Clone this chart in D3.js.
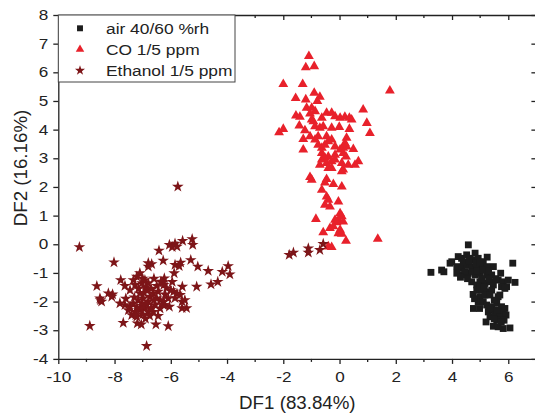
<!DOCTYPE html>
<html>
<head>
<meta charset="utf-8">
<script src="https://cdnjs.cloudflare.com/ajax/libs/d3/7.8.5/d3.min.js"></script>
<style>
  body { margin: 0; background: #fff; }
  text { font-family: "Liberation Sans", Arial, sans-serif; fill: #222; }
</style>
</head>
<body>
<div id="chart"></div>
<script>
// tick values
var xMajor = [-10, -8, -6, -4, -2, 0, 2, 4, 6];
var xMinor = [-9, -7, -5, -3, -1, 1, 3, 5];
var yMajor = [-4, -3, -2, -1, 0, 1, 2, 3, 4, 5, 6, 7, 8];

var legendNames = ["air 40/60 %rh", "CO 1/5 ppm", "Ethanol 1/5 ppm"];

// air 40/60 %rh  [DF1, DF2]
var airPoints = [
  [4.58,-0.02],[4.82,-0.31],[3.25,-0.98],[3.63,-0.9],[3.71,-0.96],[3.93,-0.66],[3.99,-0.61],
  [4.22,-0.43],[4.34,-0.49],[4.52,-0.37],[4.64,-0.49],[4.76,-0.55],[4.93,-0.49],[5.11,-0.61],[5.25,-0.45],
  [6.16,-0.66],[5.47,-0.78],[4.17,-0.78],[4.34,-0.84],[4.52,-0.72],[4.7,-0.78],[4.88,-0.84],[5.05,-0.78],[5.23,-0.78],
  [4.17,-1.01],[4.4,-1.07],[4.58,-1.01],[4.82,-1.07],[4.99,-1.01],[5.23,-1.07],[5.41,-1.07],[5.73,-1.01],
  [5.64,-1.25],[5.82,-1.31],[6.0,-1.25],[6.24,-1.33],[5.94,-1.48],
  [4.7,-1.31],[4.88,-1.42],[4.99,-1.31],[5.17,-1.36],[5.35,-1.31],[5.47,-1.42],[5.76,-1.48],[5.88,-1.54],
  [4.88,-1.6],[5.05,-1.6],[5.23,-1.66],[5.41,-1.6],
  [4.99,-1.83],[5.17,-1.77],[5.35,-1.77],[5.64,-1.83],[5.7,-1.77],
  [4.93,-2.0],[5.11,-2.0],[4.76,-2.24],[4.98,-2.24],
  [5.23,-2.12],[5.41,-2.18],[5.59,-2.06],[5.76,-2.18],[5.88,-2.24],
  [5.29,-2.36],[5.47,-2.3],[5.64,-2.36],[5.82,-2.41],
  [5.35,-2.53],[5.53,-2.47],[5.7,-2.53],[5.92,-2.47],
  [5.21,-2.71],[5.59,-2.65],[5.85,-2.65],
  [5.47,-2.86],[5.64,-2.88],[5.82,-2.94],[6.06,-2.92],
  [4.4,-0.62],[4.6,-0.6],[4.85,-0.65],[5.0,-0.62],[4.45,-0.95],[4.7,-0.95],[4.9,-0.92],[5.1,-0.9],[5.3,-0.92],
  [4.3,-1.15],[4.55,-1.2],[5.05,-1.2],[5.3,-1.2],[5.55,-1.2],[5.0,-1.5],[5.15,-1.5],[4.75,-1.75],[4.8,-1.9],
  [5.5,-1.95],[5.3,-2.25],[5.6,-2.3],[5.5,-2.6],[5.75,-2.7]
];

// CO 1/5 ppm
var coPoints = [
  [-1.09,6.56],[-1.2,6.17],[-0.9,6.21],[-2.0,5.59],[-1.31,5.59],[1.79,5.36],[-1.56,5.1],[-1.2,5.05],
  [-0.9,5.28],[-0.7,5.14],[-0.79,4.99],[-1.17,4.76],[-0.99,4.76],[-0.87,4.64],[-1.55,4.49],[-1.41,4.44],
  [-1.05,4.56],[-0.99,4.35],[-0.93,4.29],[-0.63,4.41],[-0.46,4.58],[-0.28,4.58],[-0.16,4.46],[0.02,4.41],
  [0.19,4.44],[0.35,4.41],[0.43,4.35],[0.84,4.7],[0.97,4.23],[1.08,3.88],[-2.15,3.9],[-2.0,4.02],
  [-1.43,4.14],[-1.23,3.97],[-0.87,4.11],[-0.7,4.06],[-0.58,4.11],[-0.28,4.06],[-0.01,4.09],[0.35,4.02],
  [-1.29,3.67],[-1.05,3.76],[-0.87,3.65],[-0.76,3.76],[-0.46,3.76],[-0.28,3.65],[0.25,3.71],[0.19,3.53],
  [-1.29,3.3],[-0.76,3.47],[-0.63,3.36],[-0.52,3.47],[-0.4,3.59],[-0.63,3.18],
  [-0.16,3.41],[0.02,3.3],[0.13,3.36],[0.25,3.41],[0.49,3.32],[-0.16,3.12],[0.13,3.18],[0.23,3.06],
  [-0.63,2.95],[-0.52,3.01],[-0.4,3.06],[-0.7,2.77],[-0.46,2.83],[-0.28,2.89],[-0.16,2.95],
  [-0.4,2.66],[-0.28,2.66],[0.08,2.83],[0.31,2.77],[0.55,2.77],[0.67,2.89],[0.08,2.54],[0.13,2.6],
  [-1.05,2.34],[-0.99,2.25],[-0.46,2.27],[-0.52,2.15],[-0.22,2.1],[0.08,2.01],[-0.63,1.9],
  [-0.46,1.66],[-0.4,1.55],[-0.04,1.49],[-0.52,1.37],[-0.34,1.31],
  [0.02,1.08],[0.08,0.97],[-0.04,0.85],[0.13,0.79],[-0.84,0.88],[-0.16,0.85],[-0.1,0.76],
  [-0.34,0.56],[-0.22,0.62],[0.02,0.5],[-0.04,0.38],[0.08,0.36],[-0.58,0.41],[0.23,0.12],[1.36,0.19],
  [-0.4,-0.08],[-0.28,-0.1]
];

// Ethanol 1/5 ppm
var ethanolPoints = [
  [-9.25,-0.1],[-8.02,-0.63],[-6.8,-0.66],[-6.68,-0.69],[-6.8,-0.78],[-6.42,-0.22],[-6.27,-0.57],
  [-6.05,-0.02],[-5.95,-0.1],[-5.85,0.02],[-5.78,-0.08],[-5.58,0.12],[-5.24,0.18],[-5.22,-0.02],[-5.75,2.01],
  [-5.85,-0.72],[-5.65,-0.64],[-5.7,-0.76],[-5.29,-0.55],[-5.04,-0.78],[-4.67,-0.93],[-4.17,-0.96],[-3.96,-0.76],[-3.9,-1.05],
  [-4.33,-1.31],[-4.57,-1.4],[-5.08,-1.48],[-5.59,-1.48],[-5.88,-1.01],[-5.95,-1.31],[-6.23,-1.19],[-6.3,-1.35],[-6.35,-1.3],[-6.25,-1.42],
  [-6.15,-1.53],[-6.0,-1.6],[-5.9,-1.65],[-5.78,-1.72],[-5.67,-1.77],
  [-5.85,-1.88],[-5.6,-2.0],[-5.5,-1.95],[-5.44,-2.23],[-5.6,-2.23],
  [-6.05,-2.18],[-6.23,-2.12],[-6.09,-2.86],[-6.53,-2.8],[-6.86,-3.55],[-7.19,-2.76],[-7.69,-2.74],[-8.88,-2.85],
  [-8.63,-1.46],[-8.52,-1.89],[-8.46,-2.0],[-8.5,-1.95],[-8.22,-1.71],[-8.07,-1.75],[-8.1,-1.83],[-7.78,-1.25],[-7.63,-1.45],
  [-7.81,-2.06],[-7.63,-2.12],[-7.51,-2.3],[-7.39,-2.47],[-7.21,-2.53],
  [-7.33,-1.25],[-7.21,-1.13],[-7.1,-1.01],[-7.27,-1.42],[-7.03,-1.36],[-6.92,-1.25],[-6.8,-1.36],[-6.86,-1.6],
  [-7.1,-1.71],[-6.98,-1.89],[-7.16,-1.95],[-7.03,-2.06],[-6.8,-2.0],[-6.74,-1.83],[-6.62,-1.71],[-6.5,-1.89],
  [-6.56,-2.12],[-6.68,-2.24],[-6.92,-2.24],[-7.1,-2.3],[-7.27,-2.36],[-7.45,-2.18],[-7.33,-2.06],[-6.8,-2.36],
  [-6.62,-2.36],[-6.38,-2.24],[-6.27,-2.12],[-6.38,-1.95],[-6.09,-1.89],[-7.24,-2.47],
  [-7.0,-1.2],[-6.9,-1.5],[-7.15,-1.55],[-6.95,-1.7],[-6.7,-1.55],[-6.6,-1.95],[-6.85,-2.1],[-7.0,-2.45],
  [-6.75,-2.5],[-6.45,-2.5],[-6.9,-2.6],[-7.05,-2.8],[-6.6,-1.2],[-6.5,-1.45],[-6.45,-1.65],[-6.2,-1.75],
  [-6.25,-2.0],[-7.3,-1.85],[-7.45,-1.6],[-7.6,-1.9],[-7.0,-2.15],[-6.7,-2.25],[-7.2,-2.2],
  [-1.79,-0.37],[-1.64,-0.29],[-1.11,-0.14],[-1.11,-0.29],[-0.7,-0.2],[-0.58,0.01]
];

var W = 535, H = 414;
var svg = d3.select("#chart").append("svg")
  .attr("width", W).attr("height", H);

var x = d3.scaleLinear().domain([-10, 7]).range([58.3, 536.4]);
var y = d3.scaleLinear().domain([-4, 8]).range([358.9, 15]);

var fmt = function(d){ return String(d); };
var axisCol = "#222";

// the source picture has slightly wide lettering, stretch text a little
var widen = function(sel, k){
  sel.each(function(){
    var w = this.getComputedTextLength();
    d3.select(this).attr("textLength", w * k).attr("lengthAdjust", "spacingAndGlyphs");
  });
};

// bottom axis, outward ticks
var gB = svg.append("g").attr("transform", "translate(0," + y(-4) + ")")
  .call(d3.axisBottom(x).tickValues(xMajor).tickSize(5).tickSizeOuter(0).tickFormat(fmt));
gB.append("g").selectAll("line").data(xMinor).join("line")
  .attr("x1", d => x(d)).attr("x2", d => x(d)).attr("y1", 0).attr("y2", 3);
gB.selectAll(".tick text").attr("y", 23).attr("dy", 0).style("font-size", "14.5px");

// top axis, inward ticks
var gT = svg.append("g").attr("transform", "translate(0," + y(8) + ")")
  .call(d3.axisTop(x).tickValues(xMajor).tickSize(-5).tickSizeOuter(0).tickFormat(""));
gT.append("g").selectAll("line").data(xMinor).join("line")
  .attr("x1", d => x(d)).attr("x2", d => x(d)).attr("y1", 0).attr("y2", 3);

// left axis, outward ticks
var gL = svg.append("g").attr("transform", "translate(" + x(-10) + ",0)")
  .call(d3.axisLeft(y).tickValues(yMajor).tickSize(5).tickSizeOuter(0).tickFormat(fmt));
gL.selectAll(".tick text").attr("x", -10).style("font-size", "14.5px");

// right axis, inward ticks
svg.append("g").attr("transform", "translate(" + x(7) + ",0)")
  .call(d3.axisRight(y).tickValues(yMajor).tickSize(-5).tickSizeOuter(0).tickFormat(""));

svg.selectAll(".domain, .tick line").attr("stroke", axisCol).attr("stroke-width", 1.3);
svg.selectAll("g > g > line").attr("stroke", axisCol).attr("stroke-width", 1.3);
svg.selectAll(".tick text").attr("fill", "#222").style("font-family", "Liberation Sans, Arial, sans-serif");
widen(svg.selectAll(".tick text"), 1.18);

// axis titles
var t1 = svg.append("text").attr("x", (x(-10) + x(7)) / 2).attr("y", 409)
  .attr("text-anchor", "middle").style("font-size", "18px").text("DF1 (83.84%)");
var t2 = svg.append("text").attr("transform", "translate(27,168) rotate(-90)")
  .attr("text-anchor", "middle").style("font-size", "18px").text("DF2 (16.16%)");
widen(t1, 1.04);
widen(t2, 1.04);

// series
var series = [
  {pts: airPoints, sym: d3.symbolSquare, size: 47, col: "#1c1c1c"},
  {pts: coPoints, sym: d3.symbolTriangle, size: 42, col: "#e8212b"},
  {pts: ethanolPoints, sym: d3.symbolStar, size: 42, col: "#7d1518"}
];

series.forEach(function(s){
  svg.append("g").selectAll("path").data(s.pts).join("path")
    .attr("d", d3.symbol().type(s.sym).size(s.size))
    .attr("transform", d => "translate(" + x(d[0]) + "," + y(d[1]) + ")")
    .attr("fill", s.col);
});

// legend
var lg = svg.append("g");
lg.append("rect").attr("x", x(-10)).attr("y", y(8))
  .attr("width", 235 - x(-10)).attr("height", 82 - y(8))
  .attr("fill", "#fff").attr("stroke", "#444").attr("stroke-width", 1);
var rowY = [28.3, 49.3, 70.5];
series.forEach(function(s, i){
  lg.append("path")
    .attr("d", d3.symbol().type(s.sym).size(s.size * 0.75))
    .attr("transform", "translate(80," + rowY[i] + ")")
    .attr("fill", s.col);
  var tx = lg.append("text").attr("x", 106).attr("y", rowY[i] + 5.5)
    .style("font-size", "15.5px").text(legendNames[i]);
  widen(tx, 1.12);
});
</script>
</body>
</html>
